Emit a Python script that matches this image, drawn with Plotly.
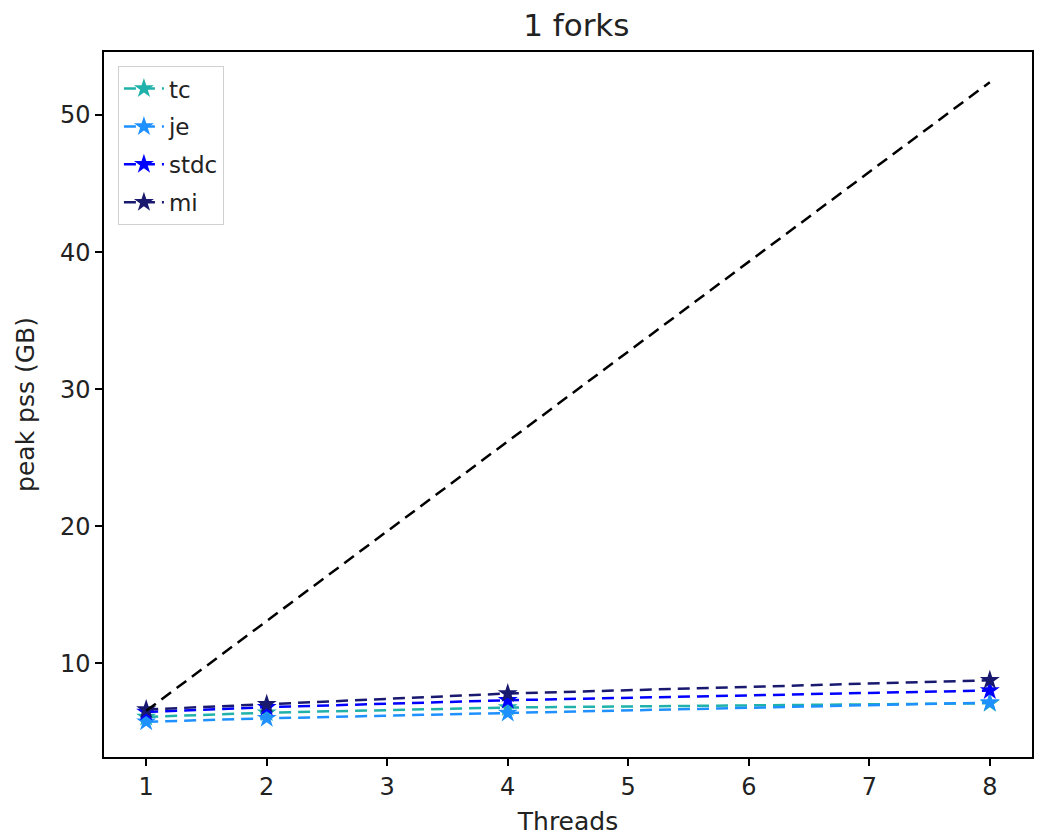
import plotly.graph_objects as go

threads = [1, 2, 4, 8]
tc = [6.10, 6.41, 6.79, 7.10]
je = [5.75, 6.00, 6.39, 7.15]
stdc = [6.47, 6.81, 7.32, 8.03]
mi = [6.64, 7.03, 7.81, 8.78]
ideal = [6.55, 13.10, 26.20, 52.40]

series = [("tc", tc, "#20b2aa"), ("je", je, "#1e90ff"),
          ("stdc", stdc, "#0000ff"), ("mi", mi, "#191970")]

fig = go.Figure()
for name, vals, col in series:
    fig.add_trace(go.Scatter(
        x=threads, y=vals, name=name, legendgroup=name, mode="lines+markers",
        line=dict(color=col, width=2.5, dash="12px,7px"),
        marker=dict(symbol="star", size=15, color=col, line=dict(width=0)),
    ))
fig.add_trace(go.Scatter(
    x=threads, y=ideal, mode="lines", showlegend=False,
    line=dict(color="black", width=2.5, dash="12px,7px"),
))

axis_common = dict(
    showgrid=False, zeroline=False, showline=True, linecolor="black",
    linewidth=1.5, mirror=True, ticks="outside", ticklen=7, tickwidth=1.5,
    tickcolor="black", tickfont=dict(size=24, color="#222"), automargin=False,
)
fig.update_xaxes(range=[0.65, 8.35], tickvals=[1, 2, 3, 4, 5, 6, 7, 8],
                 title=dict(text="Threads", font=dict(size=25, color="#222"), standoff=14),
                 **axis_common)
fig.update_yaxes(range=[3.18, 54.6], tickvals=[10, 20, 30, 40, 50],
                 title=dict(text="peak pss (GB)", font=dict(size=25, color="#222"), standoff=18),
                 **axis_common)

fig.update_layout(
    width=1039, height=828,
    margin=dict(l=96, r=15, t=44, b=79),
    paper_bgcolor="white", plot_bgcolor="white",
    font=dict(family="DejaVu Sans", color="#222"),
    title=dict(text="1 forks", x=0.547, xanchor="center", y=0.979, yanchor="middle",
               font=dict(size=31, color="#222")),
    legend=dict(x=0.015, y=0.98, xanchor="left", yanchor="top",
                bgcolor="rgba(255,255,255,0.8)", bordercolor="#d0d0d0", borderwidth=1,
                font=dict(size=23, color="#222"), itemwidth=40, tracegroupgap=5),
    showlegend=True,
)

fig.write_html("out.html")
